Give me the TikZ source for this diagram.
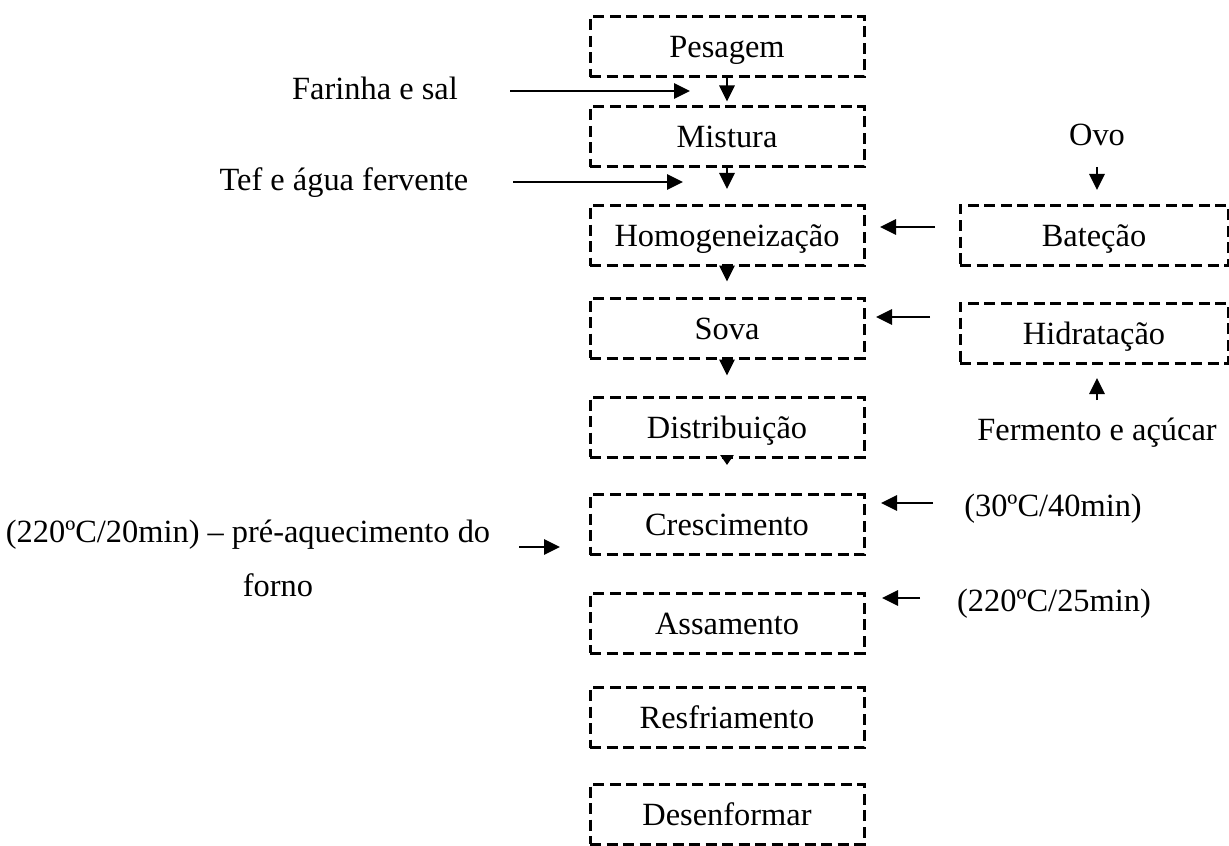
\documentclass[tikz,border=0pt]{standalone}
\usepackage{fontspec}
\setmainfont{Liberation Serif}
\usetikzlibrary{arrows.meta}
\begin{document}
\begin{tikzpicture}[x=0.5pt,y=-0.5pt,
  box/.style={draw,line width=1.5pt,dash pattern=on 5.5pt off 2.75pt,minimum width=137pt,minimum height=30pt,inner sep=0pt,text height=14pt,text depth=3pt,font=\fontsize{16.2}{19}\selectfont},
  rbox/.style={box,minimum width=134pt},
  lbl/.style={inner sep=0pt,anchor=base,font=\fontsize{16.2}{19}\selectfont},
  arr/.style={line width=1.4pt,-{Triangle[length=8pt,width=7.5pt]}},
  sarr/.style={line width=1.4pt,-{Triangle[length=5pt,width=6.5pt]}}]
\useasboundingbox (0,0) rectangle (1229,845);
% main column
\node[box] (pes) at (727,47) {Pesagem};
\node[box] (mis) at (727,137) {Mistura};
\node[box] (hom) at (727,235.5) {Homogeneização};
\node[box] (sov) at (727,328) {Sova};
\node[box] (dis) at (727,427) {Distribuição};
\node[box] (cre) at (727,524.5) {Crescimento};
\node[box] (ass) at (727,623) {Assamento};
\node[box] (res) at (727,717.5) {Resfriamento};
\node[box] (des) at (727,814) {Desenformar};
% right column
\node[rbox] (bat) at (1094,235.5) {Bateção};
\node[rbox] (hid) at (1094,333) {Hidratação};
% labels
\node[lbl] (far) at (375,100) {Farinha e sal};
\node[lbl] (tef) at (344,191) {Tef e água fervente};
\node[lbl] (ovo) at (1097,146) {Ovo};
\node[lbl] (fer) at (1097,440) {Fermento e açúcar};
\node[lbl] (t30) at (1053,516) {(30ºC/40min)};
\node[lbl] (t220) at (1054,611) {(220ºC/25min)};
\node[lbl] (pre) at (248,542) {(220ºC/20min) – pré-aquecimento do};
\node[lbl] (forno) at (278,596) {forno};
% main flow arrows
\draw[arr] (pes.south) -- ([yshift=2pt]mis.north);
\draw[arr] (mis.south) -- ([yshift=7.5pt]hom.north);
\draw[arr] (hom.south) -- ([yshift=7.5pt]sov.north);
\draw[arr] (sov.south) -- ([yshift=10pt]dis.north);
\draw[sarr] (dis.south) -- ([yshift=14pt]cre.north);
% free-ended arrows
\coordinate (farS) at (510,91);   \coordinate (farT) at (690,91);
\coordinate (tefS) at (513,182);  \coordinate (tefT) at (683,182);
\coordinate (ovoS) at (1097,167); \coordinate (ovoT) at (1097,190);
\coordinate (batS) at (935,227);  \coordinate (batT) at (880,227);
\coordinate (hidS) at (930,317);  \coordinate (hidT) at (876,317);
\coordinate (ferS) at (1097,400); \coordinate (ferT) at (1097,378);
\coordinate (c30S) at (933,503);  \coordinate (c30T) at (881,503);
\coordinate (c220S) at (920,598); \coordinate (c220T) at (882,598);
\coordinate (preS) at (519,547);  \coordinate (preT) at (560,547);
\draw[arr] (farS) -- (farT);
\draw[arr] (tefS) -- (tefT);
\draw[arr] (ovoS) -- (ovoT);
\draw[arr] (batS) -- (batT);
\draw[arr] (hidS) -- (hidT);
\draw[arr] (ferS) -- (ferT);
\draw[arr] (c30S) -- (c30T);
\draw[arr] (c220S) -- (c220T);
\draw[arr] (preS) -- (preT);
\end{tikzpicture}
\end{document}
